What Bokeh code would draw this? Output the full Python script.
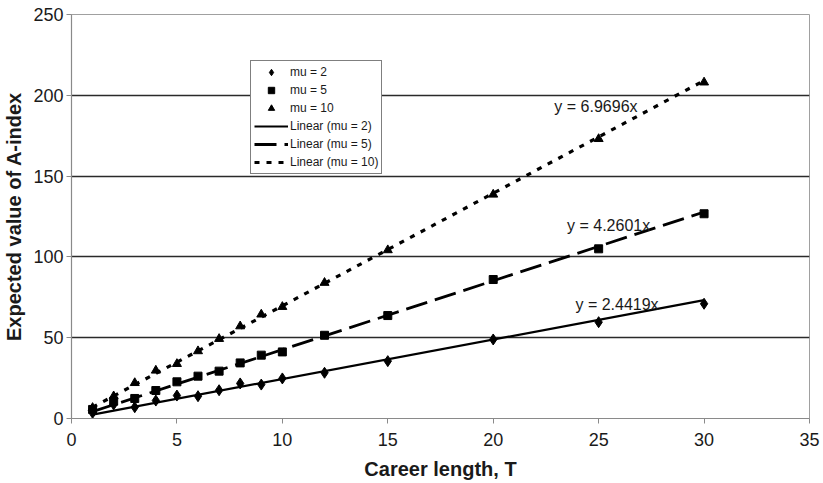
from bokeh.plotting import figure
from bokeh.models import Legend, LegendItem, FixedTicker, Range1d
from bokeh.core.properties import value
from bokeh.embed import file_html
from bokeh.resources import INLINE

# ---- data ----
career_T = [1, 2, 3, 4, 5, 6, 7, 8, 9, 10, 12, 15, 20, 25, 30]
mu2_vals = [3.5, 8.7, 7.0, 11.1, 14.2, 13.8, 17.5, 21.7, 21.0, 24.8, 28.3, 35.5, 48.9, 59.6, 71.0]
mu5_vals = [5.6, 10.7, 12.4, 17.3, 22.7, 26.2, 29.3, 34.4, 39.2, 41.2, 51.5, 63.7, 86.0, 105.0, 126.7]
mu10_vals = [6.6, 13.8, 22.0, 29.7, 33.8, 41.7, 49.3, 57.1, 64.4, 69.1, 84.0, 104.2, 138.6, 173.0, 208.0]
slopes = [2.4419, 4.2601, 6.9696]
eq_labels = ["y = 2.4419x", "y = 4.2601x", "y = 6.9696x"]
x_ticks = [0, 5, 10, 15, 20, 25, 30, 35]
y_ticks = [0, 50, 100, 150, 200, 250]

FONT = "Liberation Sans"

p = figure(frame_width=738, frame_height=404, x_range=Range1d(0, 35), y_range=Range1d(0, 250),
           output_backend="svg", toolbar_location=None,
           min_border_left=68, min_border_right=11, min_border_top=14, min_border_bottom=0)
p.background_fill_color = "white"
p.border_fill_color = "white"
p.outline_line_color = "#a0a0a0"
p.outline_line_width = 1

p.xgrid.visible = False
p.ygrid.ticker = FixedTicker(ticks=[50, 100, 150, 200])
p.ygrid.grid_line_color = "#2a2a2a"
p.ygrid.grid_line_width = 1.3

for ax, ticks in ((p.xaxis, x_ticks), (p.yaxis, y_ticks)):
    ax.ticker = FixedTicker(ticks=ticks)
    ax.axis_line_color = "#8a8a8a"
    ax.axis_line_width = 1.2
    ax.major_tick_line_color = "#8a8a8a"
    ax.major_tick_out = 5
    ax.major_tick_in = 0
    ax.minor_tick_line_color = None
    ax.major_label_text_font = FONT
    ax.major_label_text_font_size = "18px"
    ax.major_label_text_color = "#1a1a1a"
    ax.axis_label_text_font = FONT
    ax.axis_label_text_font_size = "20px"
    ax.axis_label_text_font_style = "bold"
    ax.axis_label_text_color = "#1a1a1a"

p.xaxis.axis_label = "Career length, T"
p.yaxis.axis_label = "Expected value of A-index"
p.xaxis.major_label_standoff = 9
p.xaxis.axis_label_standoff = 9
p.yaxis.major_label_standoff = 3
p.yaxis.axis_label_standoff = 5

# trend lines (through origin, over data range)
x0, x1 = min(career_T), max(career_T)
dashes = ["solid", "22 8", "5 7"]
widths = [2.2, 2.8, 3.2]
line_rs = []
for s, d, w in zip(slopes, dashes, widths):
    r = p.line([x0, x1], [s * x0, s * x1], line_color="black", line_width=w, line_dash=d)
    line_rs.append(r)

r_d = p.scatter(career_T, mu2_vals, marker="diamond", size=11, color="black")
r_s = p.scatter(career_T, mu5_vals, marker="square", size=8, color="black")
r_t = p.scatter(career_T, mu10_vals, marker="triangle", size=9, color="black")

# equation labels
p.text(x=[23.9, 23.5, 22.9], y=[70.5, 119.4, 193.0], text=eq_labels,
       text_font=value(FONT), text_font_size="16px", text_color="#1a1a1a",
       text_baseline="middle", text_align="left")

legend = Legend(items=[
    LegendItem(label="mu = 2", renderers=[r_d]),
    LegendItem(label="mu = 5", renderers=[r_s]),
    LegendItem(label="mu = 10", renderers=[r_t]),
    LegendItem(label="Linear (mu = 2)", renderers=[line_rs[0]]),
    LegendItem(label="Linear (mu = 5)", renderers=[line_rs[1]]),
    LegendItem(label="Linear (mu = 10)", renderers=[line_rs[2]]),
], location=(179, 244))
legend.border_line_color = "black"
legend.border_line_width = 1
legend.background_fill_color = "white"
legend.background_fill_alpha = 1
legend.label_text_font = FONT
legend.label_text_font_size = "12px"
legend.label_text_color = "#1a1a1a"
legend.glyph_width = 34
legend.glyph_height = 16
legend.label_height = 16
legend.label_standoff = 2
legend.spacing = 2
legend.padding = 3
legend.margin = 0
p.add_layout(legend, "center")

open("out.html", "w").write(file_html(p, INLINE))
